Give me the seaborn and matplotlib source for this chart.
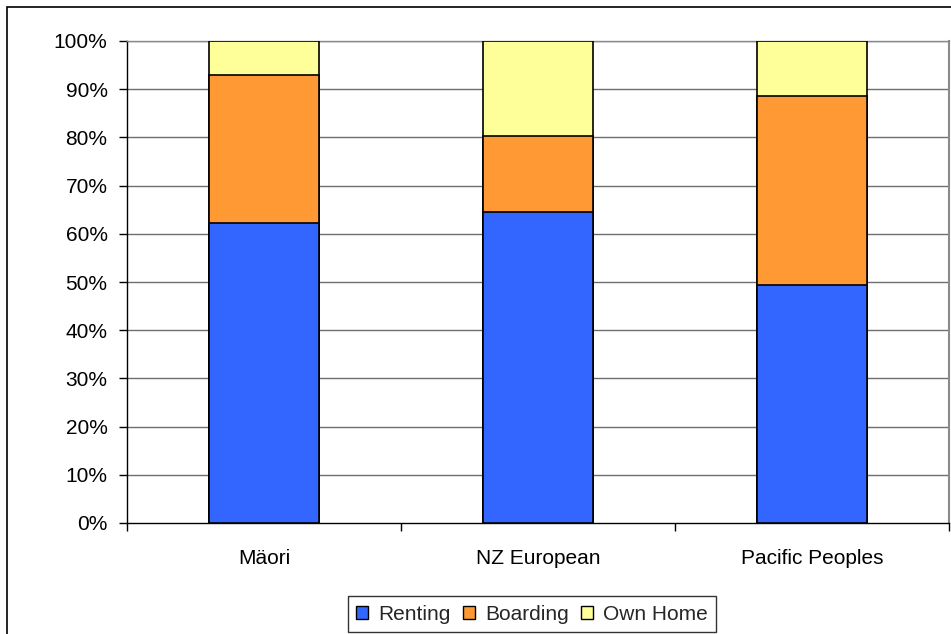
import numpy as np
import pandas as pd
import matplotlib
matplotlib.use("Agg")
import matplotlib.pyplot as plt
import seaborn as sns
from matplotlib.patches import Patch, Rectangle
from matplotlib.ticker import FuncFormatter

categories = ["Mäori", "NZ European", "Pacific Peoples"]
series_names = ["Renting", "Boarding", "Own Home"]
renting = [62.2, 64.5, 49.3]
boarding = [30.8, 15.7, 39.3]
own_home = [7.0, 19.8, 11.4]
colors = ["#3366FF", "#FF9933", "#FFFF99"]
yticks = [0, 10, 20, 30, 40, 50, 60, 70, 80, 90, 100]

sns.set_theme(style="white")
plt.rcParams["font.family"] = ["Liberation Sans", "DejaVu Sans"]

FS = 15

fig = plt.figure(figsize=(9.51, 6.34), dpi=100)
W, H = 951, 634
ax = fig.add_axes([127 / W, 1 - 523 / H, (949 - 127) / W, (523 - 41) / H])

df = pd.DataFrame({"cat": categories, "Renting": renting,
                   "Boarding": boarding, "Own Home": own_home})
cum1 = df["Renting"]
cum2 = cum1 + df["Boarding"]
cum3 = cum2 + df["Own Home"]

for vals, col in [(cum3, colors[2]), (cum2, colors[1]), (cum1, colors[0])]:
    sns.barplot(x=df["cat"], y=vals, color=col, width=0.4, edgecolor="black",
                linewidth=1.2, saturation=1, ax=ax, zorder=3)

ax.set_ylim(0, 100)
ax.set_xlim(-0.5, 2.5)
ax.set_yticks(yticks)
ax.yaxis.set_major_formatter(FuncFormatter(lambda v, p: f"{v:.0f}%"))
for y in yticks[1:]:
    ax.axhline(y, color="#6e6e6e", linewidth=1, zorder=1)

ax.set_xticks([-0.5, 0.5, 1.5, 2.5])
ax.set_xticklabels([])
ax.set_xticks([0, 1, 2], minor=True)
ax.set_xticklabels(categories, minor=True)
ax.tick_params(axis="x", which="major", length=6, width=1, color="black", direction="out", bottom=True)
ax.tick_params(axis="x", which="minor", length=0, pad=19, labelsize=FS, labelcolor="black")
ax.tick_params(axis="y", length=6, width=1, color="black", direction="out", left=True, pad=8,
               labelsize=FS, labelcolor="black")
ax.set_xlabel("")
ax.set_ylabel("")

for s in ["left", "bottom"]:
    ax.spines[s].set_color("black")
    ax.spines[s].set_linewidth(1)
ax.spines["right"].set_color("#8a8a8a")
ax.spines["right"].set_linewidth(1.5)
ax.spines["top"].set_color("#8a8a8a")
ax.spines["top"].set_linewidth(1)

handles = [Patch(facecolor=c, edgecolor="black", linewidth=1, label=n)
           for c, n in zip(colors, series_names)]
leg = fig.legend(handles=handles, loc="center", bbox_to_anchor=(532 / W, 1 - 614 / H),
                 ncol=3, fontsize=FS, frameon=True, fancybox=False, edgecolor="black",
                 handlelength=0.57, handleheight=0.57, handletextpad=0.5,
                 columnspacing=0.57, borderpad=0.4)
leg.get_frame().set_linewidth(1)

fig.patches.append(Rectangle((7 / W, -0.1), 1.2, (1 - 6.5 / H) + 0.1, transform=fig.transFigure,
                             fill=False, edgecolor="black", linewidth=1.2, clip_on=False))

fig.savefig("out.png", dpi=100)
